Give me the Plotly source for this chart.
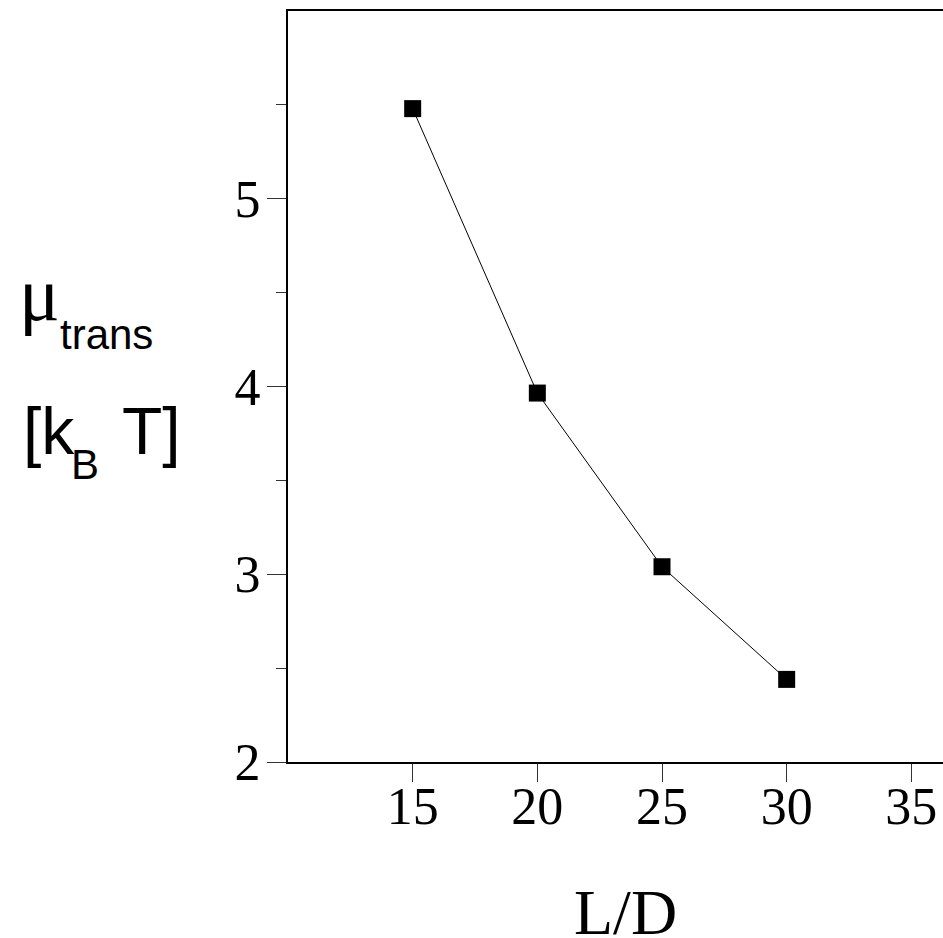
import plotly.graph_objects as go

L_over_D = [15, 20, 25, 30]
mu_trans = [5.48, 3.965, 3.04, 2.44]
x_ticks = [15, 20, 25, 30, 35]
y_ticks = [2, 3, 4, 5]
y_minor = [2.5, 3.5, 4.5, 5.5]

W, H = 943, 938
ML, MR, MT, MB = 288, 0, 11, 176
PW, PH = W - ML - MR, H - MT - MB


def px(x):
    return (x - ML) / PW


def py(y):
    return (H - MB - y) / PH


fig = go.Figure()
fig.add_trace(go.Scatter(
    x=L_over_D, y=mu_trans, mode="lines+markers",
    line=dict(color="black", width=1),
    marker=dict(symbol="square", size=17, color="black"),
    showlegend=False, cliponaxis=False,
))

tick_font = dict(family="Liberation Serif", size=52, color="black")
sans_big = dict(family="Liberation Sans", size=66, color="black")
sans_small = dict(family="Liberation Sans", size=42, color="black")


def ann(text, x, y, font):
    return dict(text=text, xref="paper", yref="paper", x=px(x), y=py(y),
                xanchor="left", yanchor="middle", showarrow=False, font=font)


fig.update_layout(
    width=W, height=H,
    margin=dict(l=ML, r=MR, t=MT, b=MB),
    paper_bgcolor="white", plot_bgcolor="white",
    xaxis=dict(
        range=[10, 36.27], tickvals=x_ticks, ticks="outside", ticklen=18,
        tickwidth=1, tickcolor="#333", showgrid=False, zeroline=False,
        showline=True, linecolor="black", linewidth=2, mirror=True,
        tickfont=tick_font, ticklabelstandoff=-20,
    ),
    yaxis=dict(
        range=[2, 6], tickvals=y_ticks, ticks="outside", ticklen=19,
        tickwidth=1, tickcolor="#333", showgrid=False, zeroline=False,
        showline=True, linecolor="black", linewidth=2, mirror=False,
        tickfont=tick_font, ticklabelstandoff=-4,
        minor=dict(tickvals=y_minor, ticks="outside", ticklen=10,
                   tickwidth=1, tickcolor="#333", showgrid=False),
    ),
    annotations=[
        dict(text="L/D", xref="paper", yref="paper", x=px(625), y=py(912),
             xanchor="center", yanchor="middle", showarrow=False,
             font=dict(family="Liberation Serif", size=64, color="black")),
        ann("μ", 17, 294, dict(family="Liberation Serif", size=76, color="black")),
        ann("trans", 58, 334, sans_small),
        ann("[k", 21, 431, sans_big),
        ann("B", 69, 464, sans_small),
        ann("T]", 120, 431, sans_big),
    ],
)
fig.write_html("out.html")
